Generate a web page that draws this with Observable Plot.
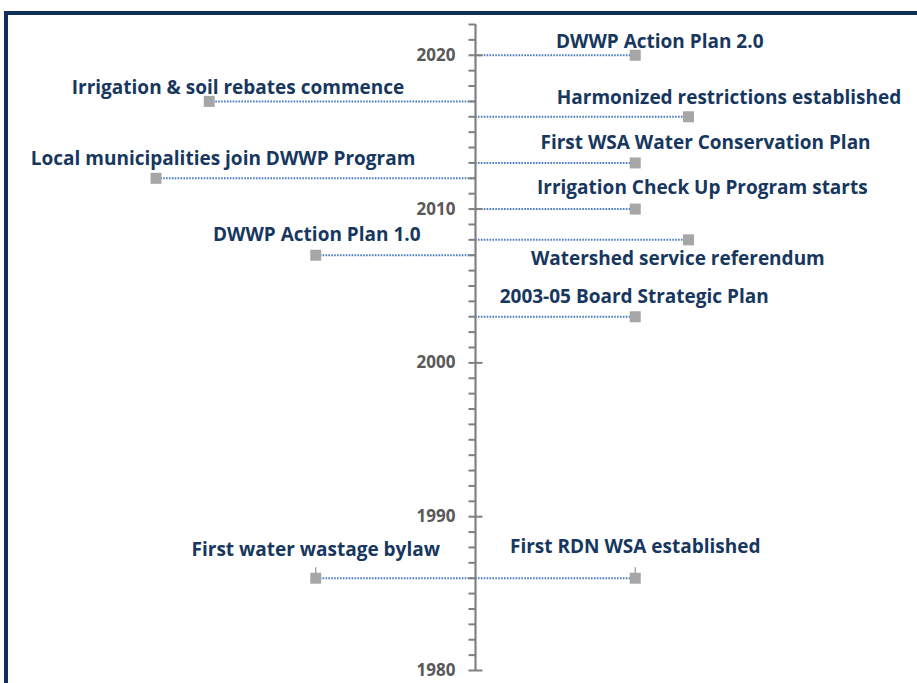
<!DOCTYPE html>
<html><head><meta charset="utf-8">
<script src="https://cdn.jsdelivr.net/npm/d3@7"></script>
<script src="https://cdn.jsdelivr.net/npm/@observablehq/plot@0.6"></script>
<style>
html,body{margin:0;padding:0;background:#fff;overflow:hidden;}
#wrap{position:relative;width:917px;height:683px;overflow:hidden;}
#frame{position:absolute;left:4px;top:11px;width:1000px;height:1000px;border:4px solid #0e2f56;box-sizing:border-box;}
#chart{position:absolute;left:0;top:0;}
</style></head><body>
<div id="wrap"><div id="frame"></div><div id="chart"></div></div>
<script>
// ---- data ----
const years = [2020, 2017, 2016, 2013, 2012, 2010, 2008, 2007, 2003, 1986, 1986];
const events = [
  "DWWP Action Plan 2.0",
  "Irrigation & soil rebates commence",
  "Harmonized restrictions established",
  "First WSA Water Conservation Plan",
  "Local municipalities join DWWP Program",
  "Irrigation Check Up Program starts",
  "Watershed service referendum",
  "DWWP Action Plan 1.0",
  "2003-05 Board Strategic Plan",
  "First water wastage bylaw",
  "First RDN WSA established"
];
const heights = [1.5, -2.5, 2, 1.5, -3, 1.5, 2, -1.5, 1.5, -1.5, 1.5];
const axisYears = d3.range(1980, 2023);
const majorYears = [1980, 1990, 2000, 2010, 2020];

// ---- label placement (annotation layout, in scale units) ----
const labelX = [1.73, -2.23, 2.38, 2.16, -2.37, 2.13, 1.90, -1.49, 1.49, -1.5, 1.5];
const labelY = [2020.86, 2017.91, 2017.24, 2014.32, 2013.28, 2011.4, 2006.79, 2008.35, 2004.26, 1987.86, 1988.05];

const data = years.map((y, i) => ({year: y, event: events[i], h: heights[i], lx: labelX[i], ly: labelY[i]}));
const minorYears = axisYears.filter(y => !majorYears.includes(y));

const leftTick = {draw(ctx) { ctx.moveTo(-7, 0); ctx.lineTo(0, 0); }};
const crossTick = {draw(ctx) { ctx.moveTo(-7, 0); ctx.lineTo(7, 0); }};
const stub = {draw(ctx) { ctx.moveTo(0, -11); ctx.lineTo(0, 0); }};

const gray = "#808080";
const font = "'Open Sans'";
const chart = Plot.plot({
  width: 917,
  height: 683,
  marginLeft: 49,
  marginRight: 16,
  marginTop: 24,
  marginBottom: 13,
  style: {background: "transparent", overflow: "visible"},
  x: {domain: [-4, 4], axis: null},
  y: {domain: [1980, 2022], axis: null},
  marks: [
    Plot.ruleY(data, {y: "year", x1: 0, x2: "h", stroke: "#4a7cc4", strokeWidth: 2, strokeDasharray: "1.6 1.3"}),
    Plot.ruleX([0], {y1: 1980, y2: 2022, stroke: gray, strokeWidth: 2.2}),
    Plot.dot(minorYears, {x: 0, y: d => d, symbol: leftTick, stroke: gray, strokeWidth: 2, fill: "none"}),
    Plot.dot(majorYears, {x: 0, y: d => d, symbol: crossTick, stroke: gray, strokeWidth: 2, fill: "none"}),
    Plot.text(majorYears, {x: 0, y: d => d, text: d => String(d), textAnchor: "end", dx: -20, fontSize: 17, fontWeight: "bold", fill: "#595959", fontFamily: font}),
    Plot.dot(data.filter(d => d.year === 1986), {x: "h", y: "year", symbol: stub, stroke: "#a6a6a6", strokeWidth: 1.5, fill: "none"}),
    Plot.dot(data, {x: "h", y: "year", symbol: "square", r: 6.2, fill: "#a6a6a6", stroke: "none"}),
    Plot.text(data, {x: "lx", y: "ly", text: "event", textAnchor: "middle", fontSize: 19, fontWeight: "bold", fill: "#17375e", fontFamily: font})
  ]
});
document.getElementById("chart").appendChild(chart);
</script>
</body></html>
